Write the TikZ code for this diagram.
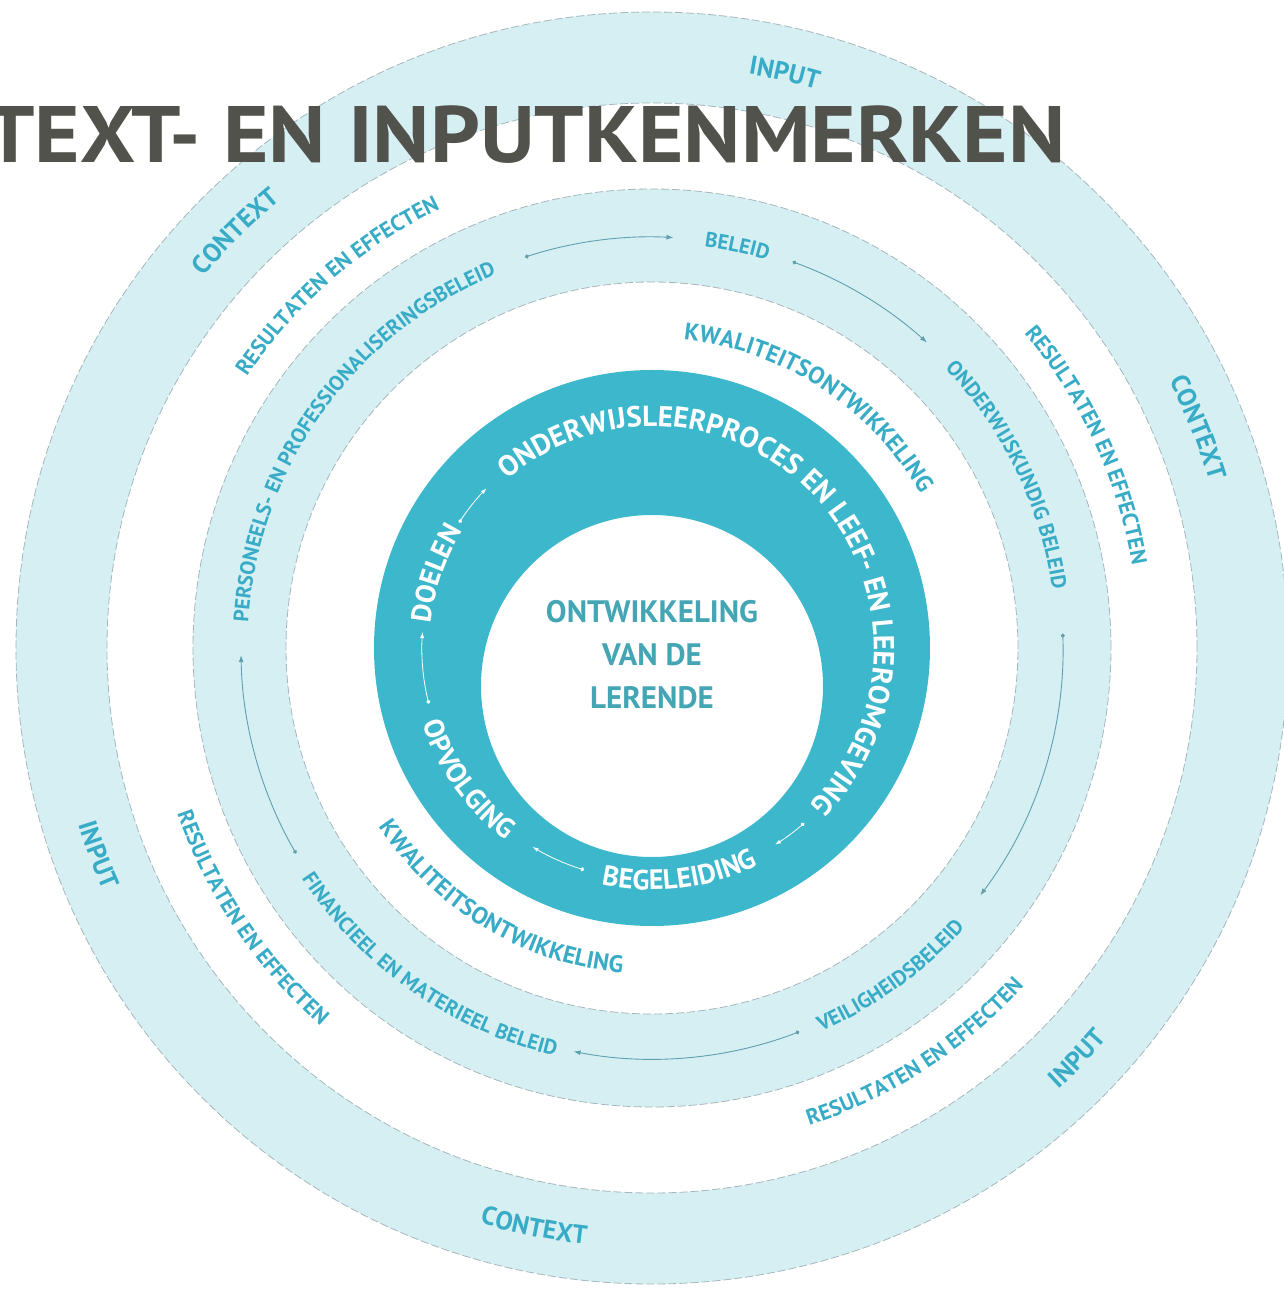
\documentclass[tikz,border=0pt]{standalone}
\usepackage{fontspec}
\setmainfont{PT Sans}
\usetikzlibrary{decorations.text,arrows.meta}

\definecolor{bandfill}{RGB}{214,239,243}
\definecolor{ringteal}{RGB}{60,183,203}
\definecolor{labelblue}{RGB}{56,172,198}
\definecolor{edgegray}{RGB}{165,182,188}
\definecolor{flowgray}{RGB}{95,160,175}
\definecolor{centreteal}{RGB}{68,166,180}
\definecolor{titlegray}{RGB}{82,82,76}

\tikzset{
  bandedge/.style={edgegray,line width=0.8pt,dash pattern=on 8pt off 3pt},
  flowline/.style={flowgray,line width=0.9pt,{Circle[length=4pt]}-{Latex[length=7pt,width=5pt]}},
  ringflow/.style={white,line width=0.8pt,{Circle[length=4pt]}-{Latex[length=6pt,width=4pt]}},
  centretext/.style={align=center,text=centreteal,font=\fontsize{31}{43}\selectfont\bfseries},
  titletext/.style={anchor=base west,inner sep=0pt,text=titlegray,font=\fontsize{80}{80}\selectfont\bfseries}
}

% text on a circle round (0,0): #1 angle, #2 radius of the letter middles, #3 size, #4 colour, #5 text
\newcommand{\toparc}[5]{%
  \path[decorate,decoration={text along path,text align=center,
    text={|\fontsize{#3}{#3}\selectfont\bfseries\color{#4}|#5}}]
    (#1+120:#2-0.35*#3) arc[start angle=#1+120,end angle=#1-120,radius=#2-0.35*#3];}
\newcommand{\botarc}[5]{%
  \path[decorate,decoration={text along path,text align=center,
    text={|\fontsize{#3}{#3}\selectfont\bfseries\color{#4}|#5}}]
    (#1-120:#2+0.35*#3) arc[start angle=#1-120,end angle=#1+120,radius=#2+0.35*#3];}

\begin{document}
\begin{tikzpicture}[x=1pt,y=1pt]
\useasboundingbox (-652,-642) rectangle (631,648);

% bands
\fill[bandfill,even odd rule] (0,0) circle (636) (0,0) circle (545);
\fill[bandfill,even odd rule] (0,0) circle (459) (0,0) circle (366);
\draw[bandedge] (0,0) circle (636);
\draw[bandedge] (0,0) circle (545);
\draw[bandedge] (0,0) circle (459);
\draw[bandedge] (0,0) circle (366);
\fill[ringteal,even odd rule] (0,0) circle (278) (0,-38) circle (171);

% beleid cycle
\draw[flowline] (108:411) arc[start angle=108,end angle=87,radius=411];
\draw[flowline] (70:411) arc[start angle=70,end angle=48,radius=411];
\draw[flowline] (2:411) arc[start angle=2,end angle=-37,radius=411];
\draw[flowline] (-69:411) arc[start angle=-69,end angle=-101,radius=411];
\draw[flowline] (210:411) arc[start angle=210,end angle=181,radius=411];

% inner cycle
\draw[ringflow] (147:230) arc[start angle=147,end angle=136,radius=230];
\draw[ringflow] (-49:232) arc[start angle=-49,end angle=-58,radius=232];
\draw[ringflow] (253:232) arc[start angle=253,end angle=239,radius=232];
\draw[ringflow] (194:230) arc[start angle=194,end angle=176,radius=230];

\toparc{77}{591}{26}{labelblue}{INPUT}
\toparc{135}{591}{26}{labelblue}{CONTEXT}
\toparc{22}{591}{26}{labelblue}{CONTEXT}
\botarc{200.5}{591}{26}{labelblue}{INPUT}
\botarc{316}{591}{26}{labelblue}{INPUT}
\botarc{258.5}{591}{26}{labelblue}{CONTEXT}

\toparc{131}{495}{22}{labelblue}{RESULTATEN EN EFFECTEN}
\toparc{25}{495}{22}{labelblue}{RESULTATEN EN EFFECTEN}
\botarc{214}{495}{22}{labelblue}{RESULTATEN EN EFFECTEN}
\botarc{303}{495}{22}{labelblue}{RESULTATEN EN EFFECTEN}

\toparc{78}{412}{21}{labelblue}{BELEID}
\toparc{144.5}{412}{21}{labelblue}{PERSONEELS- EN PROFESSIONALISERINGSBELEID}
\toparc{26}{412}{21}{labelblue}{ONDERWIJSKUNDIG BELEID}
\botarc{306}{412}{21}{labelblue}{VEILIGHEIDSBELEID}
\botarc{235}{412}{21}{labelblue}{FINANCIEEL EN MATERIEEL BELEID}

\toparc{57}{318}{24}{labelblue}{KWALITEITSONTWIKKELING}
\botarc{239}{318}{24}{labelblue}{KWALITEITSONTWIKKELING}

\toparc{43}{232}{29}{white}{ONDERWIJSLEERPROCES EN LEEF- EN LEEROMGEVING}
\toparc{161}{232}{28}{white}{DOELEN}
\botarc{215.5}{232}{28}{white}{OPVOLGING}
\botarc{277}{232}{28}{white}{BEGELEIDING}

\node[centretext] (lerende) at (0,-7) {ONTWIKKELING\\VAN DE\\LERENDE};

\node[titletext] (titel) at (-667,485) {\scalebox{1.09}[1]{TEXT- EN INPUTKENMERKEN}};
\end{tikzpicture}
\end{document}
